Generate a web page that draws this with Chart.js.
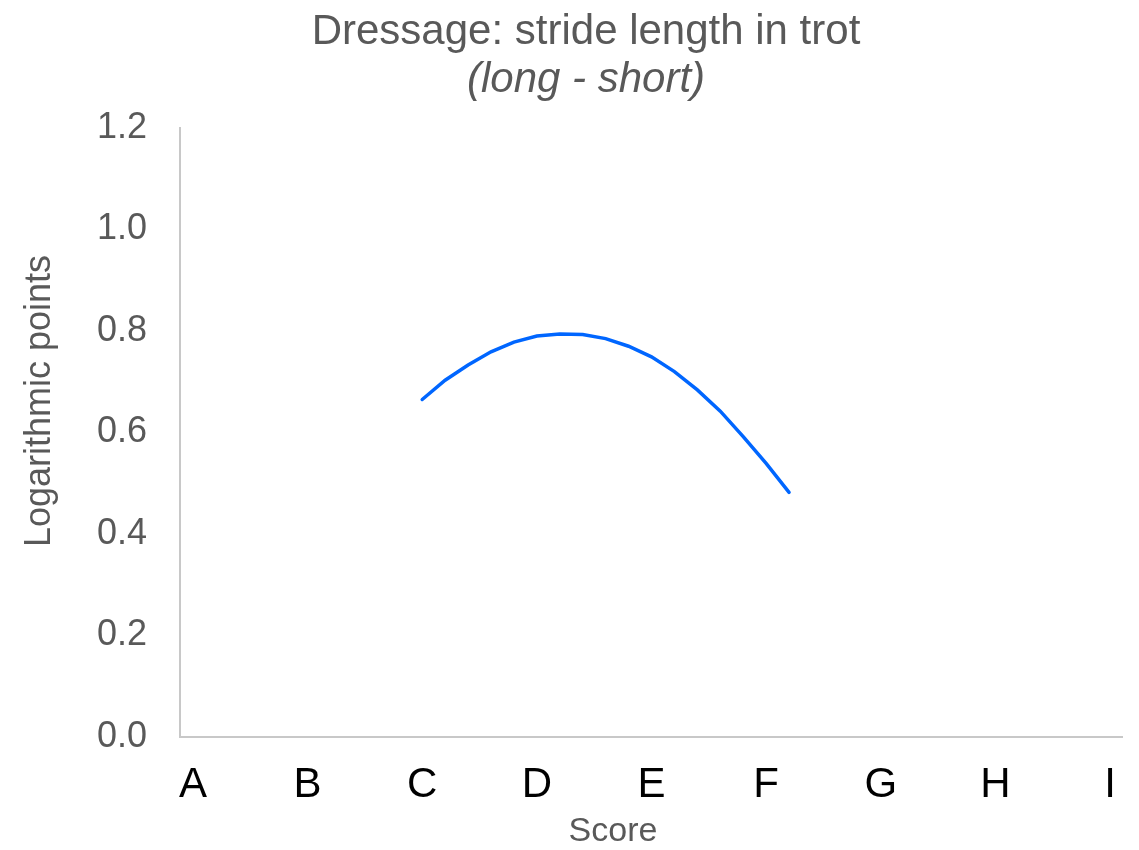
<!DOCTYPE html>
<html>
<head>
<meta charset="utf-8">
<title>Dressage: stride length in trot</title>
<script src="https://cdn.jsdelivr.net/npm/chart.js@4"></script>
<style>
  html, body { margin: 0; padding: 0; background: #fff; }
  #chart { display: block; }
</style>
</head>
<body>
<canvas id="chart" width="1139" height="850"></canvas>
<script>
// data
const categories = ['A', 'B', 'C', 'D', 'E', 'F', 'G', 'H', 'I'];
const scoreX = [2.0, 2.2, 2.4, 2.6, 2.8, 3.0, 3.2, 3.4, 3.6, 3.8, 4.0, 4.2, 4.4, 4.6, 4.8, 5.0, 5.2];
const logPoints = [0.665, 0.703, 0.733, 0.759, 0.778, 0.790, 0.794, 0.793, 0.785, 0.770, 0.749, 0.720, 0.684, 0.642, 0.592, 0.539, 0.482];
const yTicks = [0, 0.2, 0.4, 0.6, 0.8, 1.0, 1.2];

const font = 'Liberation Sans, Arial, sans-serif';
const grey = '#595959';

// axis titles sit off-centre in the original, so draw them by hand
const axisTitles = {
    id: 'axisTitles',
    afterDraw(chart) {
        const c = chart.ctx;
        c.save();
        c.fillStyle = grey;
        c.textAlign = 'center';
        c.textBaseline = 'middle';
        c.font = '34px ' + font;
        c.fillText('Score', 613, 832);
        c.translate(40, 401);
        c.rotate(-Math.PI / 2);
        c.font = '36px ' + font;
        c.fillText('Logarithmic points', 0, 0);
        c.restore();
    }
};

const ctx = document.getElementById('chart').getContext('2d');
const chart = new Chart(ctx, {
    type: 'line',
    data: {
        datasets: [{
            data: scoreX.map((x, i) => ({ x: x, y: logPoints[i] })),
            borderColor: '#0066ff',
            borderWidth: 3.5,
            borderCapStyle: 'round',
            pointRadius: 0,
            tension: 0,
            fill: false
        }]
    },
    options: {
        responsive: false,
        animation: false,
        layout: { padding: { left: 42, right: 9, top: 0, bottom: 0 } },
        plugins: {
            legend: { display: false },
            tooltip: { enabled: false },
            title: {
                display: true,
                text: 'Dressage: stride length in trot',
                color: grey,
                font: { family: font, size: 42, weight: 'normal', lineHeight: 1.15 },
                padding: { top: 8, bottom: 0 }
            },
            subtitle: {
                display: true,
                text: '(long - short)',
                color: grey,
                font: { family: font, size: 42, weight: 'normal', style: 'italic', lineHeight: 1.15 },
                padding: { top: 0, bottom: 23.4 }
            }
        },
        scales: {
            x: {
                type: 'linear',
                min: -0.113,
                max: 8.113,
                grid: { display: false, drawTicks: false },
                border: { display: true, color: '#c8c8c8', width: 2 },
                ticks: {
                    color: '#000',
                    font: { family: font, size: 42 },
                    padding: 23,
                    maxRotation: 0,
                    autoSkip: false,
                    callback: v => categories[v]
                },
                afterBuildTicks: s => { s.ticks = categories.map((c, i) => ({ value: i })); },
                afterFit: s => { s.height = 113; }
            },
            y: {
                min: 0,
                max: 1.2,
                grid: { display: false, drawTicks: false },
                border: { display: true, color: '#c8c8c8', width: 2 },
                ticks: {
                    color: grey,
                    font: { family: font, size: 36 },
                    padding: 33,
                    callback: v => v.toFixed(1)
                },
                afterBuildTicks: s => { s.ticks = yTicks.map(v => ({ value: v })); },
                afterFit: s => { s.width = 138; }
            }
        }
    },
    plugins: [axisTitles]
});
</script>
</body>
</html>
